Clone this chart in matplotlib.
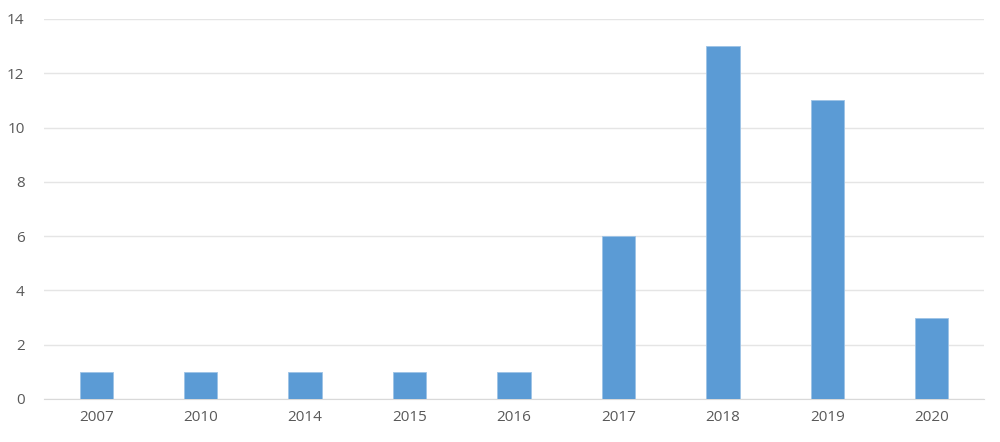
import numpy as np
import matplotlib.pyplot as plt

YEARS = ['2007', '2010', '2014', '2015', '2016', '2017', '2018', '2019', '2020']
COUNTS = [1, 1, 1, 1, 1, 6, 13, 11, 3]

BAR_COLOR = '#5B9BD5'
GRID_COLOR = '#E5E5E5'
TEXT_COLOR = '#595959'


def main():
    plt.rcParams['font.family'] = ['Open Sans', 'DejaVu Sans']
    fig = plt.figure(figsize=(10, 4.42), dpi=100)
    ax = fig.add_axes([0.044, 43 / 442, 0.94, 380 / 442])

    x = np.arange(len(YEARS))
    ax.bar(x, COUNTS, width=0.32, color=BAR_COLOR,
           edgecolor='#9DC3E6', linewidth=0.6, zorder=3)

    ax.set_xlim(-0.5, len(YEARS) - 0.5)
    ax.set_ylim(0, 14)
    ax.set_yticks(range(0, 15, 2))
    ax.set_xticks(x)
    ax.set_xticklabels(YEARS)

    ax.grid(axis='y', color=GRID_COLOR, linewidth=1, zorder=0)
    for side in ['top', 'right', 'left']:
        ax.spines[side].set_visible(False)
    ax.spines['bottom'].set_color('#D9D9D9')
    ax.tick_params(axis='both', length=0, colors=TEXT_COLOR, labelsize=11)
    ax.tick_params(axis='x', pad=8)
    ax.tick_params(axis='y', pad=14)

    fig.savefig('out.png', dpi=100)


if __name__ == '__main__':
    main()
